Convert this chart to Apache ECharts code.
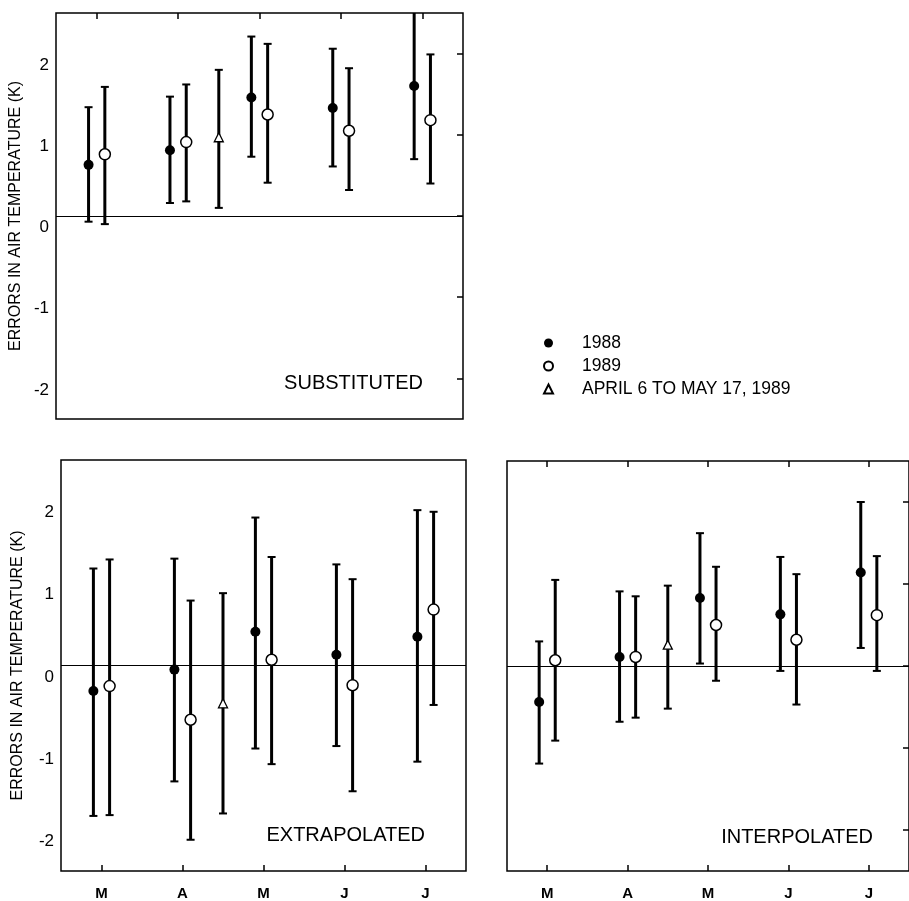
<!DOCTYPE html>
<html><head><meta charset="utf-8">
<script src="https://cdn.jsdelivr.net/npm/echarts@6/dist/echarts.min.js"></script>
<style>html,body{margin:0;padding:0;background:#fff}#c{width:909px;height:901px}</style>
</head><body><div id="c"></div>
<script>
// ---- data ----
const months = ['M', 'A', 'M', 'J', 'J'];
const monthTicks = [0.5, 1.5, 2.5, 3.5, 4.5];
const yTicks = [-2, -1, 0, 1, 2];
const panelNames = ['SUBSTITUTED', 'EXTRAPOLATED', 'INTERPOLATED'];
const seriesNames = ['1988', '1989', 'APRIL 6 TO MAY 17, 1989'];
const yTitle = 'ERRORS IN AIR TEMPERATURE (K)';
// each entry: [mean, lower, upper]
const sub1988 = [[0.63, -0.07, 1.34], [0.81, 0.16, 1.47], [1.46, 0.73, 2.21], [1.33, 0.61, 2.06], [1.60, 0.70, 2.60]];
const sub1989 = [[0.76, -0.10, 1.59], [0.91, 0.18, 1.62], [1.25, 0.41, 2.12], [1.05, 0.32, 1.82], [1.18, 0.40, 1.99]];
const subApr = [0.97, 0.10, 1.80];
const ext1988 = [[-0.31, -1.83, 1.18], [-0.05, -1.41, 1.30], [0.41, -1.01, 1.80], [0.13, -0.98, 1.23], [0.35, -1.17, 1.89]];
const ext1989 = [[-0.25, -1.82, 1.29], [-0.66, -2.12, 0.79], [0.07, -1.20, 1.32], [-0.24, -1.53, 1.05], [0.68, -0.48, 1.87]];
const extApr = [-0.46, -1.80, 0.88];
const int1988 = [[-0.44, -1.19, 0.30], [0.11, -0.68, 0.91], [0.83, 0.03, 1.62], [0.63, -0.06, 1.33], [1.14, 0.22, 2.00]];
const int1989 = [[0.07, -0.91, 1.05], [0.11, -0.63, 0.85], [0.50, -0.18, 1.21], [0.32, -0.47, 1.12], [0.62, -0.06, 1.34]];
const intApr = [0.26, -0.52, 0.98];
// period April 6 - May 17 sits on the April/May boundary
const aprPeriodX = 2.0;

// ---- layout ----
const FONT = 'Liberation Sans, Arial, sans-serif';
const panels = [
  {d88: sub1988, d89: sub1989, apr: subApr, grid: {left: 56, top: 13, width: 407, height: 406},
   topTicks: true, bottomTicks: false, bottomLabels: false, leftLabels: true, rightTicks: true, nameGap: 32},
  {d88: ext1988, d89: ext1989, apr: extApr, grid: {left: 61, top: 460, width: 405, height: 412},
   topTicks: false, bottomTicks: true, bottomLabels: true, leftLabels: true, rightTicks: false, nameGap: 35},
  {d88: int1988, d89: int1989, apr: intApr, grid: {left: 507, top: 461, width: 405, height: 412},
   topTicks: true, bottomTicks: true, bottomLabels: true, leftLabels: false, rightTicks: true, nameGap: 35}
];
const labelPos = [
  {x: 423, y: 383}, {x: 425, y: 835}, {x: 873, y: 837}
];
const off88 = -0.1, off89 = 0.1;

function renderBar(params, api) {
  const x = api.value(0), lo = api.value(1), hi = api.value(2);
  const p1 = api.coord([x, lo]), p2 = api.coord([x, hi]);
  const cw = 4;
  return {type: 'group', children: [
    {type: 'line', shape: {x1: p1[0], y1: p1[1], x2: p2[0], y2: p2[1]}, style: {stroke: '#000', lineWidth: 3}},
    {type: 'line', shape: {x1: p1[0] - cw, y1: p1[1], x2: p1[0] + cw, y2: p1[1]}, style: {stroke: '#000', lineWidth: 2}},
    {type: 'line', shape: {x1: p2[0] - cw, y1: p2[1], x2: p2[0] + cw, y2: p2[1]}, style: {stroke: '#000', lineWidth: 2}}
  ]};
}

const grids = [], xAxes = [], yAxes = [], series = [];
panels.forEach((p, i) => {
  grids.push(Object.assign({show: true, borderColor: '#000', borderWidth: 1.5, backgroundColor: 'transparent'}, p.grid));
  // bottom x axis
  xAxes.push({type: 'value', gridIndex: i, min: 0, max: 5, position: 'bottom',
    axisLine: {show: false, onZero: false}, splitLine: {show: false},
    axisTick: {show: p.bottomTicks, inside: true, length: 6, customValues: monthTicks, lineStyle: {color: '#000', width: 1.5}},
    axisLabel: {show: p.bottomLabels, customValues: monthTicks, margin: 15, color: '#000', fontFamily: FONT, fontSize: 15, fontWeight: 'bold',
      formatter: v => months[Math.round(v - 0.5)]}
  });
  // left y axis
  yAxes.push({type: 'value', gridIndex: i, min: -2.5, max: 2.5, position: 'left',
    name: p.leftLabels ? yTitle : '', nameLocation: 'middle', nameRotate: 90, nameGap: p.nameGap,
    nameTextStyle: {color: '#000', fontFamily: FONT, fontSize: 16},
    axisLine: {show: false, onZero: false}, splitLine: {show: false}, axisTick: {show: false},
    axisLabel: {show: p.leftLabels, customValues: yTicks, margin: 7, color: '#000', fontFamily: FONT, fontSize: 17,
      verticalAlign: 'top', lineHeight: 23}
  });
});
panels.forEach((p, i) => {
  // top x axis (ticks only)
  xAxes.push({type: 'value', gridIndex: i, min: 0, max: 5, position: 'top',
    axisLine: {show: false, onZero: false}, splitLine: {show: false}, axisLabel: {show: false},
    axisTick: {show: p.topTicks, inside: true, length: 6, customValues: monthTicks, lineStyle: {color: '#000', width: 1.5}}
  });
  // right y axis (ticks only)
  yAxes.push({type: 'value', gridIndex: i, min: -2.5, max: 2.5, position: 'right',
    axisLine: {show: false, onZero: false}, splitLine: {show: false}, axisLabel: {show: false},
    axisTick: {show: p.rightTicks, inside: true, length: 6, customValues: yTicks, lineStyle: {color: '#000', width: 1.5}}
  });
});

panels.forEach((p, i) => {
  const bars88 = p.d88.map((d, k) => [k + 0.5 + off88, d[1], d[2]]);
  const bars89 = p.d89.map((d, k) => [k + 0.5 + off89, d[1], d[2]]);
  const barsApr = [[aprPeriodX, p.apr[1], p.apr[2]]];
  series.push({type: 'custom', name: 'bars' + i, xAxisIndex: i, yAxisIndex: i, clip: true, z: 2,
    renderItem: renderBar, encode: {x: 0, y: [1, 2]}, data: bars88.concat(bars89, barsApr), silent: true});
  series.push({type: 'scatter', name: seriesNames[0], xAxisIndex: i, yAxisIndex: i, z: 4,
    symbol: 'circle', symbolSize: 10, itemStyle: {color: '#000', opacity: 1},
    data: p.d88.map((d, k) => [k + 0.5 + off88, d[0]]),
    markLine: {silent: true, symbol: 'none', label: {show: false}, z: 3,
      lineStyle: {color: '#000', width: 1.2, type: 'solid'}, data: [{yAxis: 0}]}
  });
  series.push({type: 'scatter', name: seriesNames[1], xAxisIndex: i, yAxisIndex: i, z: 4,
    symbol: 'circle', symbolSize: 11, itemStyle: {color: '#fff', borderColor: '#000', borderWidth: 1.5, opacity: 1},
    data: p.d89.map((d, k) => [k + 0.5 + off89, d[0]])
  });
  series.push({type: 'scatter', name: seriesNames[2], xAxisIndex: i, yAxisIndex: i, z: 4,
    symbol: 'triangle', symbolSize: 9, itemStyle: {color: '#fff', borderColor: '#000', borderWidth: 1.3, opacity: 1},
    data: [[aprPeriodX, p.apr[0]]]
  });
});

const graphics = panelNames.map((t, i) => ({
  type: 'text', x: labelPos[i].x, y: labelPos[i].y, z: 10,
  style: {text: t, align: 'right', verticalAlign: 'middle', fill: '#000', font: '20px ' + FONT}
}));

const chart = echarts.init(document.getElementById('c'), null, {renderer: 'canvas'});
chart.setOption({
  backgroundColor: '#fff',
  animation: false,
  grid: grids,
  xAxis: xAxes,
  yAxis: yAxes,
  legend: {
    orient: 'vertical', left: 543, top: 334, padding: 0, itemGap: 5,
    itemWidth: 9, itemHeight: 9, selectedMode: false,
    data: seriesNames,
    textStyle: {color: '#000', fontFamily: FONT, fontSize: 17.5, padding: [0, 0, 0, 24]}
  },
  graphic: graphics,
  series: series
});
</script>
</body></html>
